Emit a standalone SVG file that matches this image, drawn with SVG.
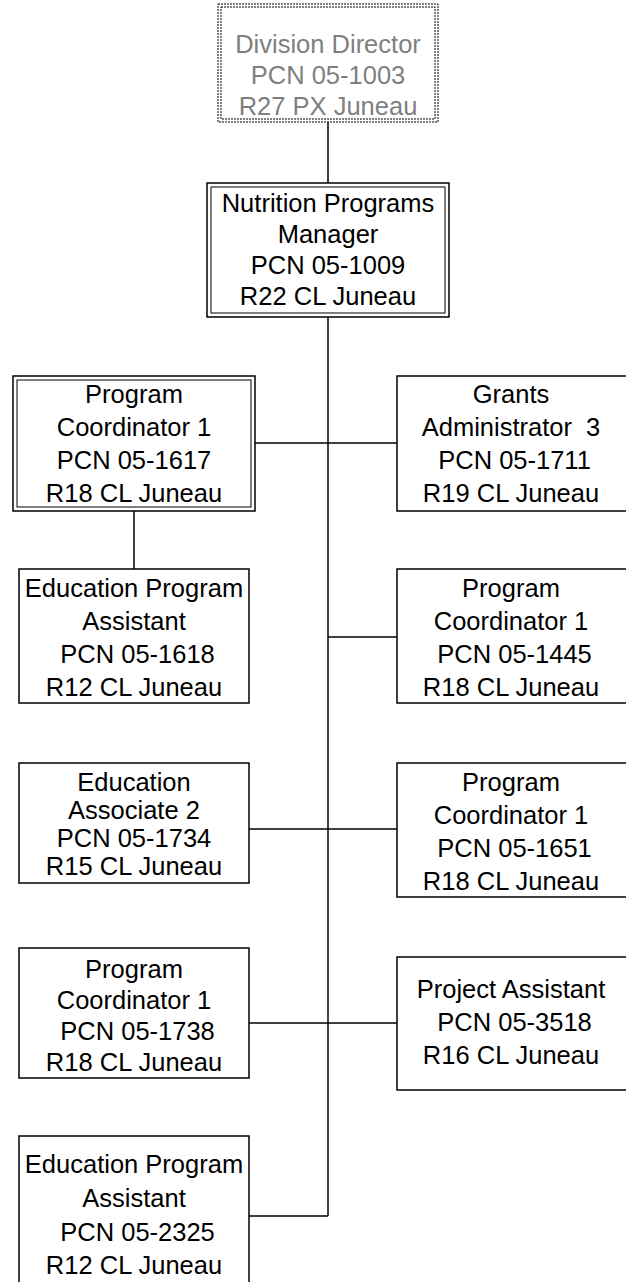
<svg xmlns="http://www.w3.org/2000/svg" width="626" height="1282" viewBox="0 0 626 1282">
<style>
  .box { fill: #ffffff; stroke: #000000; stroke-width: 1.5; }
  .inner { fill: none; stroke: #000000; stroke-width: 1; }
  .dd { fill: #ffffff; stroke: #000000; stroke-width: 1; stroke-dasharray: 2 1; }
  .ddin { fill: none; stroke: #000000; stroke-width: 1; stroke-dasharray: 2 1; }
  .wire { fill: none; stroke: #000000; stroke-width: 1.5; }
  text { font-family: "Liberation Sans", Arial, sans-serif; font-size: 25.5px; fill: #000000; text-anchor: middle; white-space: pre; }
  .grey { fill: #7f7f7f; }
</style>
<rect width="626" height="1282" fill="#ffffff"/>
<g id="connectors">
  <path class="wire" d="M328 122 V183"/>
  <path class="wire" d="M328 317 V1216"/>
  <path class="wire" d="M255 443 H397"/>
  <path class="wire" d="M134 511 V569"/>
  <path class="wire" d="M328 637 H397"/>
  <path class="wire" d="M249 829 H397"/>
  <path class="wire" d="M249 1023 H397"/>
  <path class="wire" d="M249 1216 H328"/>
</g>
<g id="division-director">
  <rect class="dd" x="218" y="4" width="220" height="118"/>
  <rect class="ddin" x="221" y="7" width="214" height="112"/>
  <text class="grey" x="328" y="53">Division Director</text>
  <text class="grey" x="328" y="84">PCN 05-1003</text>
  <text class="grey" x="328" y="115">R27 PX Juneau</text>
</g>
<g id="nutrition-manager">
  <rect class="box" x="207" y="183" width="242" height="134"/>
  <rect class="inner" x="211" y="187" width="234" height="126"/>
  <text x="328" y="212">Nutrition Programs</text>
  <text x="328" y="243">Manager</text>
  <text x="328" y="274">PCN 05-1009</text>
  <text x="328" y="305">R22 CL Juneau</text>
</g>
<g id="pc-1617">
  <rect class="box" x="13" y="376" width="242" height="135"/>
  <rect class="inner" x="17" y="380" width="234" height="127"/>
  <text x="134" y="403">Program</text>
  <text x="134" y="436">Coordinator 1</text>
  <text x="134" y="469">PCN 05-1617</text>
  <text x="134" y="502">R18 CL Juneau</text>
</g>
<g id="grants-1711">
  <rect class="box" x="397" y="376" width="232" height="135"/>
  <text x="511" y="403">Grants</text>
  <text x="511" y="436">Administrator  3</text>
  <text x="511" y="469"> PCN 05-1711</text>
  <text x="511" y="502">R19 CL Juneau</text>
</g>
<g id="epa-1618">
  <rect class="box" x="19" y="569" width="230" height="134"/>
  <text x="134" y="597">Education Program</text>
  <text x="134" y="630">Assistant</text>
  <text x="134" y="663"> PCN 05-1618</text>
  <text x="134" y="696">R12 CL Juneau</text>
</g>
<g id="pc-1445">
  <rect class="box" x="397" y="569" width="232" height="134"/>
  <text x="511" y="597">Program</text>
  <text x="511" y="630">Coordinator 1</text>
  <text x="511" y="663"> PCN 05-1445</text>
  <text x="511" y="696">R18 CL Juneau</text>
</g>
<g id="ea2-1734">
  <rect class="box" x="19" y="763" width="230" height="120"/>
  <text x="134" y="791">Education</text>
  <text x="134" y="819">Associate 2</text>
  <text x="134" y="847">PCN 05-1734</text>
  <text x="134" y="875">R15 CL Juneau</text>
</g>
<g id="pc-1651">
  <rect class="box" x="397" y="763" width="232" height="134"/>
  <text x="511" y="791">Program</text>
  <text x="511" y="824">Coordinator 1</text>
  <text x="511" y="857"> PCN 05-1651</text>
  <text x="511" y="890">R18 CL Juneau</text>
</g>
<g id="pc-1738">
  <rect class="box" x="19" y="948" width="230" height="130"/>
  <text x="134" y="978">Program</text>
  <text x="134" y="1009">Coordinator 1</text>
  <text x="134" y="1040"> PCN 05-1738</text>
  <text x="134" y="1071">R18 CL Juneau</text>
</g>
<g id="project-assistant-3518">
  <rect class="box" x="397" y="957" width="232" height="133"/>
  <text x="511" y="998">Project Assistant</text>
  <text x="511" y="1031"> PCN 05-3518</text>
  <text x="511" y="1064">R16 CL Juneau</text>
</g>
<g id="epa-2325">
  <rect class="box" x="19" y="1136" width="230" height="160"/>
  <text x="134" y="1173">Education Program</text>
  <text x="134" y="1207">Assistant</text>
  <text x="134" y="1241"> PCN 05-2325</text>
  <text x="134" y="1274">R12 CL Juneau</text>
</g>
</svg>
